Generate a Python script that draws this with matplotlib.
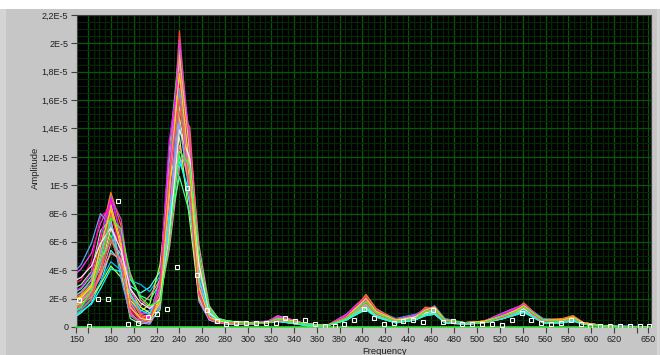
#!/usr/bin/env python
"""
Amplitude spectra of many recordings, drawn like a LabVIEW waveform graph.
"""
import numpy as np
import matplotlib
matplotlib.use("Agg")
import matplotlib.pyplot as plt
from matplotlib.patches import Rectangle

# frequency points shared by the coloured spectra (Hz)
freq = [145, 154, 163, 171, 180, 189, 197, 206, 214, 223,
        231, 240, 249, 257, 266, 274, 283, 300, 317, 326,
        335, 352, 369, 386, 395, 403, 412, 429, 446, 455,
        463, 472, 489, 506, 523, 532, 541, 549, 558, 575,
        584, 593, 610, 627, 650]

# amplitudes in units of 1E-6
s01 = [1.2, 1.8, 2.6, 4.9, 8.1, 5.2, 1.1, 0.6, 0.9, 2.8, 9.6, 20.9, 11.8, 2.9, 0.7, 0.4, 0.3, 0.3, 0.3, 0.6, 0.5, 0.2, 0.1, 0.8, 1.6, 2.2, 1.1, 0.5, 0.8, 1.3, 1.4, 0.5, 0.3, 0.4, 0.9, 1.2, 1.6, 1.0, 0.5, 0.5, 0.7, 0.3, 0.1, 0.0, 0.0]
s02 = [0.8, 1.5, 2.2, 3.8, 6.5, 4.1, 0.9, 0.4, 0.7, 3.5, 12.4, 19.6, 9.8, 2.1, 0.6, 0.3, 0.3, 0.2, 0.3, 0.5, 0.4, 0.2, 0.1, 0.7, 1.3, 1.9, 0.9, 0.4, 0.7, 1.1, 1.2, 0.4, 0.3, 0.3, 0.8, 1.1, 1.4, 0.9, 0.4, 0.4, 0.6, 0.2, 0.1, 0.0, 0.0]
s03 = [2.1, 2.4, 3.1, 5.6, 9.4, 6.3, 1.8, 0.9, 1.2, 2.2, 7.8, 17.5, 12.6, 3.8, 0.9, 0.5, 0.4, 0.3, 0.4, 0.7, 0.5, 0.2, 0.1, 0.9, 1.5, 2.0, 1.2, 0.6, 0.9, 1.2, 1.5, 0.6, 0.3, 0.4, 1.0, 1.3, 1.5, 1.1, 0.6, 0.5, 0.8, 0.3, 0.1, 0.1, 0.0]
s04 = [1.6, 2.0, 2.9, 4.2, 6.9, 5.8, 2.6, 1.4, 1.0, 1.9, 6.1, 14.8, 10.4, 4.6, 1.2, 0.5, 0.4, 0.3, 0.3, 0.5, 0.4, 0.2, 0.1, 0.6, 1.1, 1.6, 0.8, 0.4, 0.6, 1.0, 1.1, 0.4, 0.2, 0.3, 0.7, 1.0, 1.3, 0.8, 0.4, 0.4, 0.5, 0.2, 0.1, 0.0, 0.0]
s05 = [3.4, 4.1, 5.2, 7.3, 8.8, 4.9, 1.3, 0.7, 0.5, 1.6, 8.9, 18.3, 13.5, 3.3, 0.8, 0.4, 0.3, 0.3, 0.4, 0.8, 0.6, 0.2, 0.1, 0.8, 1.4, 1.8, 1.0, 0.5, 0.8, 1.2, 1.3, 0.5, 0.3, 0.4, 0.9, 1.2, 1.5, 0.9, 0.5, 0.5, 0.7, 0.3, 0.1, 0.0, 0.0]
s06 = [0.5, 1.0, 1.7, 3.1, 5.4, 4.6, 2.9, 2.4, 2.8, 3.9, 8.2, 12.1, 8.7, 3.1, 0.9, 0.4, 0.3, 0.2, 0.3, 0.4, 0.3, 0.1, 0.1, 0.5, 1.0, 1.4, 0.7, 0.3, 0.5, 0.9, 1.0, 0.4, 0.2, 0.3, 0.6, 0.9, 1.1, 0.7, 0.3, 0.3, 0.5, 0.2, 0.1, 0.0, 0.0]
s07 = [1.9, 2.3, 3.4, 6.2, 9.5, 7.1, 2.2, 0.8, 0.6, 2.4, 10.8, 16.4, 11.2, 2.6, 0.6, 0.3, 0.3, 0.3, 0.3, 0.6, 0.5, 0.2, 0.1, 0.7, 1.4, 2.3, 1.3, 0.5, 0.7, 1.4, 1.3, 0.5, 0.3, 0.3, 0.8, 1.1, 1.7, 1.1, 0.5, 0.6, 0.8, 0.3, 0.1, 0.0, 0.0]
s08 = [1.1, 1.6, 2.4, 3.5, 5.9, 6.4, 3.8, 1.9, 1.4, 2.1, 5.4, 11.3, 13.2, 5.8, 1.5, 0.6, 0.4, 0.3, 0.3, 0.5, 0.4, 0.2, 0.1, 0.6, 1.2, 1.7, 1.0, 0.4, 0.6, 1.0, 1.2, 0.5, 0.3, 0.3, 0.7, 1.0, 1.4, 1.0, 0.4, 0.4, 0.6, 0.2, 0.1, 0.0, 0.0]
s09 = [2.6, 3.0, 3.9, 6.8, 7.6, 3.9, 0.6, 0.2, 0.4, 1.2, 7.1, 15.6, 10.9, 2.4, 0.5, 0.3, 0.2, 0.2, 0.3, 0.5, 0.4, 0.1, 0.1, 0.5, 1.0, 1.5, 0.8, 0.3, 0.5, 0.9, 1.0, 0.3, 0.2, 0.3, 0.6, 0.9, 1.2, 0.8, 0.3, 0.3, 0.5, 0.2, 0.1, 0.0, 0.0]
s10 = [1.4, 1.9, 2.7, 4.4, 7.2, 5.5, 1.5, 0.4, 0.3, 2.9, 11.6, 18.9, 8.6, 1.8, 0.5, 0.3, 0.3, 0.2, 0.3, 0.6, 0.4, 0.2, 0.1, 0.7, 1.3, 1.9, 1.0, 0.4, 0.7, 1.1, 1.3, 0.4, 0.3, 0.4, 0.8, 1.1, 1.5, 0.9, 0.4, 0.4, 0.7, 0.2, 0.1, 0.0, 0.0]
s11 = [0.9, 1.3, 2.0, 3.2, 4.6, 4.0, 3.3, 3.0, 2.5, 3.6, 9.4, 14.2, 9.9, 3.6, 1.1, 0.5, 0.4, 0.3, 0.3, 0.5, 0.4, 0.2, 0.1, 0.6, 1.1, 1.5, 0.8, 0.4, 0.6, 1.0, 1.1, 0.4, 0.2, 0.3, 0.7, 1.0, 1.2, 0.8, 0.4, 0.4, 0.5, 0.2, 0.1, 0.0, 0.0]
s12 = [2.9, 3.3, 4.6, 7.8, 8.4, 5.0, 1.2, 0.5, 0.8, 2.3, 8.4, 17.1, 12.9, 3.5, 0.8, 0.4, 0.3, 0.3, 0.4, 0.7, 0.5, 0.2, 0.1, 0.8, 1.5, 2.1, 1.1, 0.5, 0.8, 1.3, 1.4, 0.5, 0.3, 0.4, 0.9, 1.2, 1.6, 1.0, 0.5, 0.5, 0.7, 0.3, 0.1, 0.0, 0.0]
s13 = [1.3, 1.7, 2.1, 3.0, 4.3, 3.5, 1.9, 1.1, 1.6, 4.4, 10.2, 13.4, 7.5, 2.0, 0.6, 0.3, 0.2, 0.2, 0.3, 0.4, 0.3, 0.1, 0.1, 0.5, 0.9, 1.3, 0.7, 0.3, 0.5, 0.8, 0.9, 0.3, 0.2, 0.3, 0.6, 0.8, 1.1, 0.7, 0.3, 0.3, 0.5, 0.2, 0.1, 0.0, 0.0]
s14 = [0.7, 1.2, 1.9, 3.9, 7.9, 6.7, 2.4, 0.9, 0.7, 1.8, 6.6, 15.2, 14.1, 4.9, 1.0, 0.5, 0.4, 0.3, 0.3, 0.6, 0.5, 0.2, 0.1, 0.7, 1.2, 1.8, 1.1, 0.5, 0.7, 1.1, 1.3, 0.5, 0.3, 0.3, 0.8, 1.1, 1.4, 1.0, 0.5, 0.4, 0.6, 0.3, 0.1, 0.0, 0.0]
s15 = [3.6, 4.4, 5.9, 8.0, 7.1, 3.4, 0.8, 0.3, 0.6, 1.5, 7.4, 16.8, 11.5, 2.7, 0.6, 0.3, 0.3, 0.3, 0.3, 0.6, 0.4, 0.2, 0.1, 0.7, 1.3, 1.8, 0.9, 0.4, 0.7, 1.1, 1.2, 0.4, 0.3, 0.3, 0.8, 1.0, 1.4, 0.9, 0.4, 0.4, 0.6, 0.2, 0.1, 0.0, 0.0]
s16 = [1.7, 2.2, 3.0, 5.0, 8.6, 6.0, 1.7, 0.6, 0.4, 2.0, 9.1, 19.2, 12.3, 3.2, 0.7, 0.4, 0.3, 0.3, 0.3, 0.7, 0.5, 0.2, 0.1, 0.8, 1.4, 2.0, 1.0, 0.5, 0.8, 1.2, 1.3, 0.5, 0.3, 0.4, 0.9, 1.1, 1.5, 1.0, 0.5, 0.5, 0.7, 0.3, 0.1, 0.0, 0.0]
s17 = [2.3, 2.7, 3.6, 4.8, 6.1, 5.1, 3.4, 2.2, 1.9, 3.1, 7.0, 10.6, 8.0, 3.9, 1.4, 0.6, 0.4, 0.3, 0.3, 0.5, 0.4, 0.2, 0.1, 0.5, 1.0, 1.4, 0.8, 0.4, 0.6, 0.9, 1.0, 0.4, 0.2, 0.3, 0.6, 0.9, 1.1, 0.8, 0.4, 0.3, 0.5, 0.2, 0.1, 0.0, 0.0]
s18 = [1.0, 1.4, 2.3, 4.6, 9.1, 7.6, 2.8, 1.0, 0.9, 2.6, 10.1, 20.2, 13.0, 3.0, 0.7, 0.4, 0.3, 0.3, 0.4, 0.7, 0.5, 0.2, 0.1, 0.9, 1.6, 2.1, 1.2, 0.5, 0.8, 1.3, 1.4, 0.5, 0.3, 0.4, 1.0, 1.3, 1.6, 1.1, 0.5, 0.5, 0.7, 0.3, 0.1, 0.0, 0.0]
s19 = [2.0, 2.5, 3.3, 5.3, 7.4, 4.4, 1.0, 0.3, 0.2, 1.4, 8.0, 14.5, 9.2, 2.2, 0.5, 0.3, 0.2, 0.2, 0.3, 0.5, 0.4, 0.1, 0.1, 0.6, 1.1, 1.6, 0.9, 0.4, 0.6, 1.0, 1.1, 0.4, 0.2, 0.3, 0.7, 0.9, 1.3, 0.8, 0.4, 0.4, 0.5, 0.2, 0.1, 0.0, 0.0]
s20 = [1.5, 1.8, 2.5, 3.7, 5.2, 4.8, 2.1, 1.5, 2.2, 3.3, 6.9, 12.8, 10.1, 4.2, 1.2, 0.5, 0.4, 0.3, 0.3, 0.5, 0.4, 0.2, 0.1, 0.6, 1.1, 1.6, 0.9, 0.4, 0.6, 1.0, 1.2, 0.4, 0.3, 0.3, 0.7, 1.0, 1.3, 0.9, 0.4, 0.4, 0.6, 0.2, 0.1, 0.0, 0.0]
s21 = [2.4, 2.8, 3.8, 6.4, 9.0, 6.6, 1.6, 0.5, 0.7, 3.2, 13.1, 18.0, 10.7, 2.5, 0.6, 0.3, 0.3, 0.3, 0.3, 0.6, 0.5, 0.2, 0.1, 0.8, 1.5, 1.9, 1.1, 0.5, 0.7, 1.2, 1.3, 0.5, 0.3, 0.4, 0.9, 1.2, 1.5, 1.0, 0.5, 0.5, 0.7, 0.3, 0.1, 0.0, 0.0]
s22 = [0.6, 1.1, 1.6, 2.7, 4.1, 3.9, 2.3, 1.2, 0.9, 2.5, 7.7, 11.7, 9.4, 3.4, 0.9, 0.4, 0.3, 0.2, 0.3, 0.4, 0.3, 0.1, 0.1, 0.5, 0.9, 1.2, 0.7, 0.3, 0.5, 0.8, 0.9, 0.3, 0.2, 0.3, 0.6, 0.8, 1.0, 0.7, 0.3, 0.3, 0.4, 0.2, 0.1, 0.0, 0.0]
s23 = [1.8, 2.1, 2.8, 5.7, 8.3, 5.7, 1.4, 0.6, 0.5, 1.7, 9.9, 17.9, 11.0, 2.8, 0.7, 0.4, 0.3, 0.3, 0.3, 0.6, 0.5, 0.2, 0.1, 0.7, 1.4, 2.0, 1.1, 0.5, 0.7, 1.2, 1.4, 0.5, 0.3, 0.4, 0.8, 1.1, 1.5, 1.0, 0.5, 0.5, 0.7, 0.3, 0.1, 0.0, 0.0]
s24 = [3.1, 3.5, 4.3, 5.9, 7.0, 5.4, 2.7, 1.7, 1.3, 2.0, 6.3, 13.9, 11.9, 4.4, 1.0, 0.5, 0.4, 0.3, 0.3, 0.5, 0.4, 0.2, 0.1, 0.6, 1.2, 1.7, 0.9, 0.4, 0.7, 1.0, 1.2, 0.4, 0.3, 0.3, 0.7, 1.0, 1.3, 0.9, 0.4, 0.4, 0.6, 0.2, 0.1, 0.0, 0.0]
s25 = [1.2, 1.5, 2.2, 4.0, 6.2, 4.3, 0.9, 0.3, 0.5, 2.7, 10.5, 16.1, 9.5, 2.3, 0.6, 0.3, 0.3, 0.2, 0.3, 0.5, 0.4, 0.2, 0.1, 0.7, 1.2, 1.7, 0.9, 0.4, 0.6, 1.1, 1.2, 0.4, 0.3, 0.3, 0.7, 1.0, 1.4, 0.9, 0.4, 0.4, 0.6, 0.2, 0.1, 0.0, 0.0]
s26 = [0.9, 1.4, 2.6, 4.7, 7.7, 6.9, 3.6, 2.1, 1.5, 1.8, 5.9, 12.4, 11.4, 5.2, 1.3, 0.5, 0.4, 0.3, 0.3, 0.6, 0.4, 0.2, 0.1, 0.6, 1.2, 1.8, 1.0, 0.4, 0.6, 1.1, 1.2, 0.5, 0.3, 0.3, 0.8, 1.0, 1.4, 1.0, 0.5, 0.4, 0.6, 0.2, 0.1, 0.0, 0.0]

# the one spectrum drawn with white square points (own frequency grid)
white_freq = [152, 160.6, 169.2, 177.8, 186.4, 195, 203.6, 212.2, 220.8, 229.4,
              238, 246.6, 255.2, 263.8, 272.4, 281, 289.6, 298.2, 306.8, 315.4,
              324, 332.6, 341.2, 349.8, 358.4, 367, 375.6, 384.2, 392.8, 401.4,
              410, 418.6, 427.2, 435.8, 444.4, 453, 461.6, 470.2, 478.8, 487.4,
              496, 504.6, 513.2, 521.8, 530.4, 539, 547.6, 556.2, 564.8, 573.4,
              582, 590.6, 599.2, 607.8, 616.4, 625, 633.6, 642.2, 650.8]
white_amp = [1.9, 0.1, 2.0, 2.0, 8.9, 0.2, 0.3, 0.7, 0.9, 1.3,
             4.2, 9.8, 3.7, 1.2, 0.4, 0.2, 0.3, 0.3, 0.3, 0.3,
             0.3, 0.6, 0.4, 0.5, 0.2, 0.1, 0.1, 0.2, 0.5, 1.3,
             0.6, 0.2, 0.3, 0.4, 0.5, 0.35, 1.2, 0.35, 0.4, 0.2,
             0.2, 0.2, 0.2, 0.15, 0.5, 1.0, 0.5, 0.3, 0.2, 0.3,
             0.5, 0.2, 0.1, 0.1, 0.05, 0.05, 0.1, 0.05, 0.05]

series = [s01, s02, s03, s04, s05, s06, s07, s08, s09, s10, s11, s12, s13,
          s14, s15, s16, s17, s18, s19, s20, s21, s22, s23, s24, s25, s26]
colors = ["#ff4040", "#40ff40", "#4080ff", "#ffff40", "#ff40ff", "#40ffff",
          "#ff8000", "#ff80c0", "#80ff80", "#c080ff", "#00c0ff", "#ff0080",
          "#c0ff40", "#ff6060", "#60a0ff", "#ffc040", "#40ffa0", "#e040e0",
          "#a0a0ff", "#ff9090", "#ff00ff", "#00ffff", "#ffd700", "#f0f0f0",
          "#ff5050", "#30ff30"]

x_ticks = [150, 160, 180, 200, 220, 240, 260, 280, 300, 320, 340, 360, 380,
           400, 420, 440, 460, 480, 500, 520, 540, 560, 580, 600, 620, 640, 650]
x_labels = ["150", "", "180", "200", "220", "240", "260", "280", "300", "320",
            "340", "360", "380", "400", "420", "440", "460", "480", "500",
            "520", "540", "560", "580", "600", "620", "", "650"]
y_ticks = [0, 2e-6, 4e-6, 6e-6, 8e-6, 1e-5, 1.2e-5, 1.4e-5, 1.6e-5, 1.8e-5,
           2e-5, 2.2e-5]
y_labels = ["0", "2E-6", "4E-6", "6E-6", "8E-6", "1E-5", "1,2E-5", "1,4E-5",
            "1,6E-5", "1,8E-5", "2E-5", "2,2E-5"]


def main():
    plt.rcParams["font.family"] = ["Liberation Sans", "DejaVu Sans"]
    W, H = 660, 355
    fig = plt.figure(figsize=(W / 100, H / 100), dpi=100, facecolor="#c6c6c6")
    # window frame bits
    fig.patches.append(Rectangle((0, 1 - 9 / H), 1, 9 / H, transform=fig.transFigure,
                                 facecolor="white", edgecolor="none", zorder=0))
    fig.patches.append(Rectangle((0, 0), 6 / W, 1 - 9 / H, transform=fig.transFigure,
                                 facecolor="#d4d4d4", edgecolor="none", zorder=0))
    fig.patches.append(Rectangle((1 - 3 / W, 0), 3 / W, 1 - 9 / H, transform=fig.transFigure,
                                 facecolor="#d4d4d4", edgecolor="none", zorder=0))

    left, right, top, bottom = 76.5, 651, 15, 327
    ax = fig.add_axes([left / W, 1 - bottom / H, (right - left) / W, (bottom - top) / H])
    ax.set_facecolor("black")

    for s, c in zip(series, colors):
        ax.plot(freq, np.array(s) * 1e-6, color=c, lw=0.9, zorder=3)
    ax.plot(white_freq, np.array(white_amp) * 1e-6, ls="none",
            marker="s", ms=2.8, mfc="none", mec="white", mew=0.8, zorder=4)

    ax.set_xlim(150, 652.2)
    ax.set_ylim(0, 2.2e-5)

    # major / minor grid like the LabVIEW graph
    ax.set_xticks(np.arange(160, 652, 5), minor=True)
    ax.set_yticks(np.arange(0, 2.2e-5, 0.5e-6), minor=True)
    ax.grid(True, which="minor", color="#002a00", lw=0.8, zorder=1)
    ax.set_xticks(x_ticks, x_labels)
    ax.set_yticks(y_ticks, y_labels)
    ax.grid(True, which="major", color="#005a00", lw=0.9, zorder=2)
    ax.tick_params(which="minor", length=0)
    ax.tick_params(which="major", direction="out", length=4, width=0.8,
                   color="#404040", labelsize=6.5, labelcolor="#202020", pad=2)

    for side in ["left", "top", "right"]:
        ax.spines[side].set_color("#404040")
        ax.spines[side].set_linewidth(0.8)
    ax.spines["bottom"].set_color("#30e030")
    ax.spines["bottom"].set_linewidth(1.2)

    fig.text(35 / W, 1 - 168 / H, "Amplitude", rotation=90, ha="center",
             va="center", fontsize=6.8, color="#202020")
    fig.text(385 / W, 1 - 351 / H, "Frequency", ha="center", va="center",
             fontsize=6.8, color="#202020")

    fig.savefig("out.png", dpi=100, facecolor=fig.get_facecolor())


if __name__ == "__main__":
    main()
